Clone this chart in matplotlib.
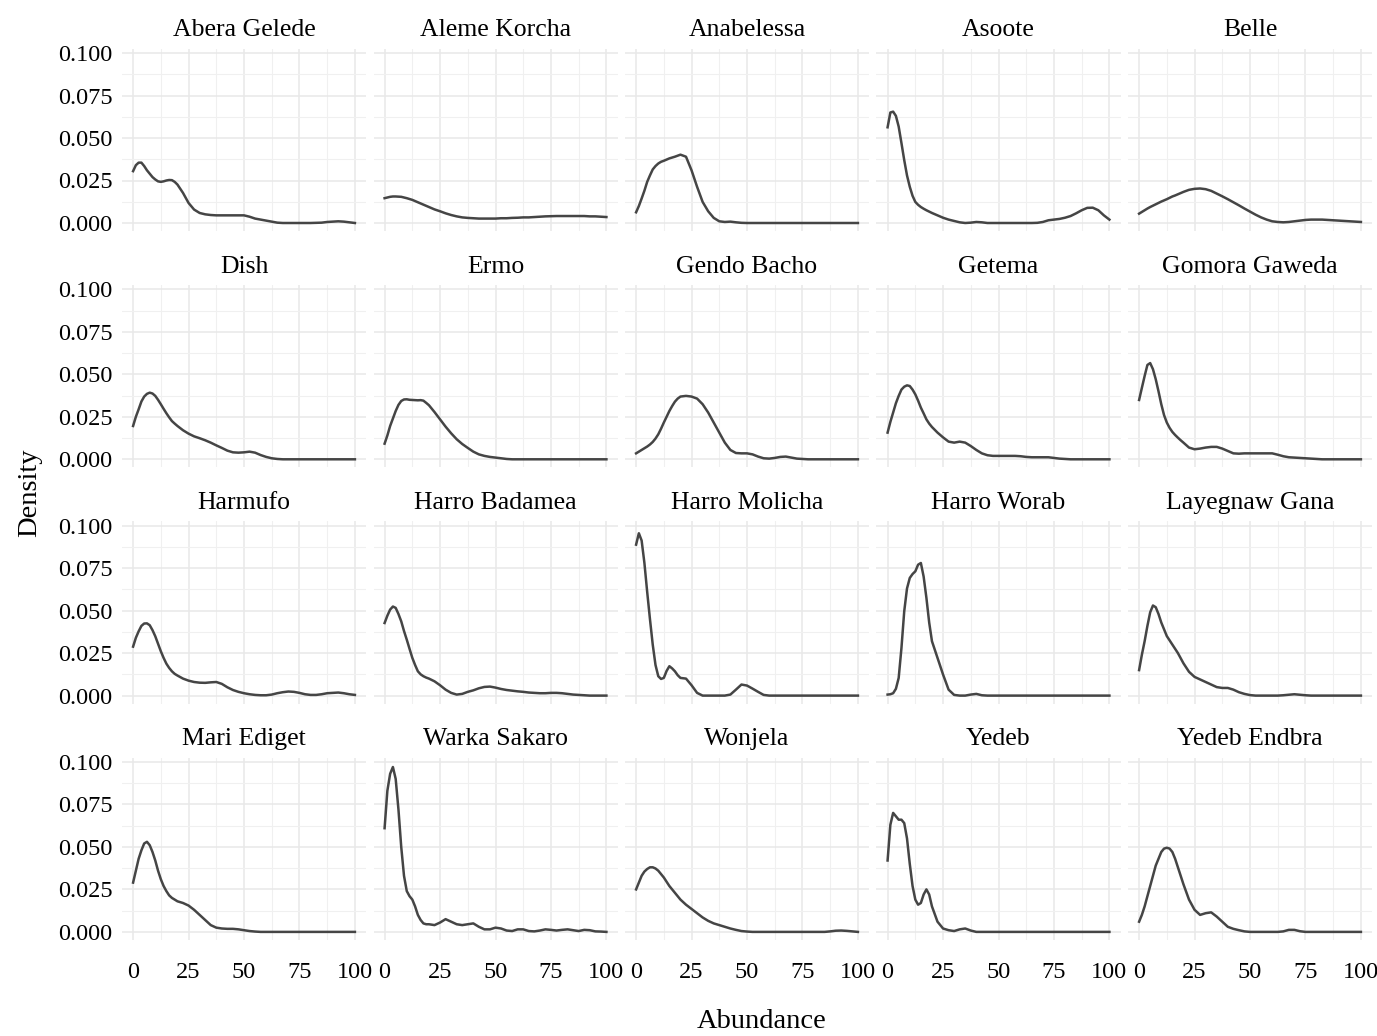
import matplotlib
matplotlib.use("Agg")
import matplotlib.pyplot as plt
from matplotlib.ticker import FixedLocator

plt.rcParams['font.family'] = ['Liberation Serif', 'DejaVu Serif']

# abundance values at which the density curves were read
abundance = [0, 1.25, 2.5, 3.75, 5, 6.25, 7.5, 8.75, 10, 11.25, 12.5, 13.75, 15, 16.25, 17.5, 18.75, 20,
             22.5, 25, 27.5, 30, 32.5, 35, 37.5, 40, 42.5, 45, 47.5, 50,
             52.5, 55, 57.5, 60, 62.5, 65, 67.5, 70, 72.5, 75, 77.5, 80,
             82.5, 85, 87.5, 90, 92.5, 95, 97.5, 100]

sites = ["Abera Gelede", "Aleme Korcha", "Anabelessa", "Asoote", "Belle",
         "Dish", "Ermo", "Gendo Bacho", "Getema", "Gomora Gaweda",
         "Harmufo", "Harro Badamea", "Harro Molicha", "Harro Worab", "Layegnaw Gana",
         "Mari Ediget", "Warka Sakaro", "Wonjela", "Yedeb", "Yedeb Endbra"]

abera_gelede = [0.0305, 0.034, 0.0355, 0.0355, 0.0335, 0.031, 0.029, 0.027, 0.0256, 0.0245, 0.0242, 0.0245, 0.025, 0.0253, 0.0252, 0.0242, 0.0226,
                0.0177, 0.0118, 0.0079, 0.0059, 0.0051, 0.0047, 0.0045, 0.0045, 0.0045, 0.0045, 0.0045, 0.0045,
                0.0037, 0.0026, 0.002, 0.0014, 0.0008, 0.0002, 0, 0, 0, 0, 0, 0,
                0.0001, 0.0002, 0.0006, 0.0008, 0.001, 0.0008, 0.0004, 0]
aleme_korcha = [0.0146, 0.015, 0.0154, 0.0156, 0.0156, 0.0155, 0.0154, 0.015, 0.0146, 0.0141, 0.0136, 0.0129, 0.0122, 0.0115, 0.0108, 0.0101, 0.0094,
                0.008, 0.0069, 0.0057, 0.0047, 0.0039, 0.0033, 0.003, 0.0028, 0.0026, 0.0026, 0.0026, 0.0026,
                0.0028, 0.0028, 0.003, 0.0031, 0.0033, 0.0033, 0.0035, 0.0037, 0.0039, 0.004, 0.0041, 0.0041,
                0.0041, 0.0041, 0.0041, 0.0041, 0.0039, 0.0039, 0.0037, 0.0035]
anabelessa = [0.0063, 0.010, 0.0144, 0.019, 0.0242, 0.028, 0.0315, 0.0335, 0.035, 0.036, 0.0366, 0.0373, 0.038, 0.0385, 0.039, 0.0396, 0.0402,
              0.039, 0.031, 0.0213, 0.0124, 0.0069, 0.003, 0.001, 0.0006, 0.0008, 0.0004, 0.0001, 0,
              0, 0, 0, 0, 0, 0, 0, 0, 0, 0, 0, 0,
              0, 0, 0, 0, 0, 0, 0, 0]
asoote = [0.0563, 0.065, 0.0655, 0.063, 0.0567, 0.047, 0.037, 0.028, 0.0213, 0.016, 0.0124, 0.0107, 0.0094, 0.0084, 0.0075, 0.0067, 0.0059,
          0.0045, 0.0031, 0.002, 0.0012, 0.0004, 0, 0.0002, 0.0006, 0.0004, 0, 0, 0,
          0, 0, 0, 0, 0, 0, 0.0001, 0.0006, 0.0016, 0.002, 0.0024, 0.0031,
          0.0041, 0.0057, 0.0075, 0.0089, 0.009, 0.0075, 0.0045, 0.002]
belle = [0.0055, 0.0065, 0.0075, 0.0085, 0.0094, 0.0102, 0.011, 0.0118, 0.0126, 0.0133, 0.014, 0.0148, 0.0156, 0.0162, 0.0169, 0.0176, 0.0183,
         0.0195, 0.0201, 0.0203, 0.0199, 0.0189, 0.0173, 0.0157, 0.014, 0.0122, 0.0104, 0.0085, 0.0067,
         0.0049, 0.0033, 0.002, 0.001, 0.0006, 0.0004, 0.0006, 0.001, 0.0014, 0.0018, 0.002, 0.002,
         0.002, 0.0018, 0.0016, 0.0014, 0.0012, 0.001, 0.0008, 0.0006]
dish = [0.0196, 0.025, 0.0294, 0.034, 0.0369, 0.0385, 0.0392, 0.0387, 0.0373, 0.035, 0.0324, 0.0297, 0.0271, 0.0247, 0.0225, 0.021, 0.0196,
        0.0171, 0.0151, 0.0135, 0.0124, 0.0112, 0.0098, 0.0082, 0.0067, 0.0051, 0.0041, 0.0039, 0.0041,
        0.0045, 0.0039, 0.0025, 0.0014, 0.0006, 0.0002, 0, 0, 0, 0, 0, 0,
        0, 0, 0, 0, 0, 0, 0, 0]
ermo = [0.0092, 0.014, 0.0196, 0.024, 0.0284, 0.032, 0.0343, 0.0352, 0.0353, 0.035, 0.0349, 0.0348, 0.0347, 0.0348, 0.0345, 0.0332, 0.0318,
        0.0278, 0.0235, 0.0192, 0.0153, 0.0118, 0.009, 0.0067, 0.0045, 0.0029, 0.002, 0.0014, 0.001,
        0.0006, 0.0002, 0, 0, 0, 0, 0, 0, 0, 0, 0, 0,
        0, 0, 0, 0, 0, 0, 0, 0]
gendo_bacho = [0.0035, 0.0045, 0.0055, 0.0065, 0.0075, 0.0087, 0.0102, 0.0122, 0.0147, 0.018, 0.0216, 0.025, 0.0284, 0.0313, 0.0339, 0.0357, 0.0369,
               0.0373, 0.0369, 0.0357, 0.0324, 0.0275, 0.0216, 0.0157, 0.0098, 0.0055, 0.0037, 0.0035, 0.0035,
               0.0029, 0.0016, 0.0006, 0.0004, 0.0008, 0.0014, 0.0016, 0.001, 0.0004, 0.0002, 0, 0,
               0, 0, 0, 0, 0, 0, 0, 0]
getema = [0.0157, 0.022, 0.0275, 0.033, 0.0373, 0.041, 0.0427, 0.0435, 0.0431, 0.041, 0.0382, 0.0345, 0.0304, 0.027, 0.0235, 0.021, 0.019,
          0.0157, 0.0129, 0.0104, 0.0098, 0.0104, 0.0098, 0.0078, 0.0055, 0.0035, 0.0024, 0.002, 0.002,
          0.002, 0.002, 0.002, 0.0018, 0.0014, 0.0012, 0.0012, 0.0012, 0.0012, 0.0008, 0.0004, 0.0002,
          0, 0, 0, 0, 0, 0, 0, 0]
gomora_gaweda = [0.0349, 0.042, 0.049, 0.0555, 0.0566, 0.053, 0.0471, 0.040, 0.0324, 0.026, 0.0216, 0.0185, 0.0161, 0.0143, 0.0127, 0.0112, 0.0098,
                 0.0069, 0.0059, 0.0063, 0.0069, 0.0073, 0.0073, 0.0063, 0.0049, 0.0035, 0.0033, 0.0035, 0.0035,
                 0.0035, 0.0035, 0.0035, 0.0035, 0.0027, 0.0018, 0.0012, 0.001, 0.0008, 0.0006, 0.0004, 0.0002,
                 0, 0, 0, 0, 0, 0, 0, 0]
harmufo = [0.0288, 0.034, 0.0378, 0.041, 0.0424, 0.0425, 0.0414, 0.0385, 0.0349, 0.0305, 0.0261, 0.0222, 0.0188, 0.0163, 0.0143, 0.0128, 0.0118,
           0.010, 0.0088, 0.008, 0.0076, 0.0075, 0.0078, 0.008, 0.0069, 0.0049, 0.0033, 0.0022, 0.0014,
           0.0008, 0.0004, 0.0002, 0.0002, 0.0006, 0.0014, 0.002, 0.0024, 0.0022, 0.0016, 0.0008, 0.0004,
           0.0004, 0.0008, 0.0014, 0.0016, 0.0018, 0.0014, 0.0008, 0.0004]
harro_badamea = [0.0427, 0.047, 0.0506, 0.0524, 0.0516, 0.048, 0.0437, 0.038, 0.0329, 0.0275, 0.0222, 0.018, 0.0143, 0.0125, 0.0114, 0.0106, 0.010,
                 0.0084, 0.0061, 0.0035, 0.0016, 0.0006, 0.001, 0.0022, 0.0031, 0.0043, 0.0051, 0.0053, 0.0047,
                 0.0039, 0.0033, 0.0029, 0.0025, 0.0022, 0.0018, 0.0016, 0.0014, 0.0014, 0.0016, 0.0016, 0.0014,
                 0.001, 0.0006, 0.0004, 0.0002, 0, 0, 0, 0]
harro_molicha = [0.0888, 0.0955, 0.0912, 0.078, 0.061, 0.045, 0.030, 0.018, 0.0114, 0.0098, 0.0104, 0.0145, 0.0173, 0.016, 0.0143, 0.012, 0.0104,
                 0.010, 0.0061, 0.0016, 0, 0, 0, 0, 0, 0.0006, 0.0035, 0.0065, 0.0059,
                 0.0041, 0.0022, 0.0004, 0, 0, 0, 0, 0, 0, 0, 0, 0,
                 0, 0, 0, 0, 0, 0, 0, 0]
harro_worab = [0.0006, 0.0008, 0.0014, 0.004, 0.0104, 0.028, 0.0496, 0.063, 0.0692, 0.0715, 0.0731, 0.077, 0.078, 0.070, 0.0575, 0.043, 0.032,
               0.0222, 0.0124, 0.0035, 0.0004, 0, 0, 0.0006, 0.001, 0.0002, 0, 0, 0,
               0, 0, 0, 0, 0, 0, 0, 0, 0, 0, 0, 0,
               0, 0, 0, 0, 0, 0, 0, 0]
layegnaw_gana = [0.015, 0.024, 0.032, 0.041, 0.049, 0.053, 0.052, 0.048, 0.043, 0.039, 0.035, 0.0325, 0.030, 0.0275, 0.025, 0.022, 0.019,
                 0.014, 0.011, 0.0095, 0.008, 0.0065, 0.005, 0.0045, 0.0045, 0.0035, 0.002, 0.001, 0.0003,
                 0, 0, 0, 0, 0, 0.0002, 0.0005, 0.0008, 0.0005, 0.0002, 0, 0,
                 0, 0, 0, 0, 0, 0, 0, 0]
mari_ediget = [0.029, 0.036, 0.043, 0.048, 0.052, 0.053, 0.051, 0.047, 0.042, 0.036, 0.031, 0.027, 0.024, 0.0215, 0.020, 0.019, 0.018,
               0.017, 0.0155, 0.013, 0.010, 0.007, 0.004, 0.0025, 0.002, 0.0018, 0.0018, 0.0015, 0.001,
               0.0005, 0.0002, 0, 0, 0, 0, 0, 0, 0, 0, 0, 0,
               0, 0, 0, 0, 0, 0, 0, 0]
warka_sakaro = [0.061, 0.083, 0.093, 0.097, 0.090, 0.072, 0.050, 0.033, 0.024, 0.021, 0.019, 0.015, 0.010, 0.007, 0.005, 0.0045, 0.0045,
                0.004, 0.0055, 0.0075, 0.006, 0.0045, 0.004, 0.0045, 0.005, 0.003, 0.0015, 0.0015, 0.0025,
                0.002, 0.0008, 0.0005, 0.0015, 0.0015, 0.0005, 0.0003, 0.0008, 0.0015, 0.0012, 0.0008, 0.0012,
                0.0015, 0.001, 0.0005, 0.0012, 0.001, 0.0003, 0.0002, 0]
wonjela = [0.025, 0.029, 0.033, 0.0355, 0.037, 0.038, 0.038, 0.0373, 0.036, 0.034, 0.032, 0.0295, 0.027, 0.025, 0.023, 0.021, 0.019,
           0.016, 0.0135, 0.011, 0.0085, 0.0065, 0.005, 0.004, 0.003, 0.002, 0.0012, 0.0005, 0.0002,
           0, 0, 0, 0, 0, 0, 0, 0, 0, 0, 0, 0,
           0, 0, 0.0003, 0.0007, 0.0008, 0.0006, 0.0003, 0]
yedeb = [0.042, 0.063, 0.070, 0.068, 0.066, 0.066, 0.064, 0.055, 0.040, 0.027, 0.019, 0.016, 0.017, 0.022, 0.025, 0.022, 0.015,
         0.006, 0.002, 0.001, 0.0005, 0.0015, 0.002, 0.0008, 0, 0, 0, 0, 0,
         0, 0, 0, 0, 0, 0, 0, 0, 0, 0, 0, 0,
         0, 0, 0, 0, 0, 0, 0, 0]
yedeb_endbra = [0.006, 0.010, 0.015, 0.021, 0.027, 0.033, 0.039, 0.043, 0.047, 0.049, 0.0495, 0.049, 0.047, 0.043, 0.038, 0.033, 0.028,
                0.019, 0.013, 0.010, 0.011, 0.0115, 0.009, 0.006, 0.003, 0.0018, 0.001, 0.0003, 0,
                0, 0, 0, 0, 0, 0.0003, 0.0012, 0.0012, 0.0004, 0, 0, 0,
                0, 0, 0, 0, 0, 0, 0, 0]

densities = [abera_gelede, aleme_korcha, anabelessa, asoote, belle,
             dish, ermo, gendo_bacho, getema, gomora_gaweda,
             harmufo, harro_badamea, harro_molicha, harro_worab, layegnaw_gana,
             mari_ediget, warka_sakaro, wonjela, yedeb, yedeb_endbra]

x_ticks = [0, 25, 50, 75, 100]
y_ticks = [0.000, 0.025, 0.050, 0.075, 0.100]
y_tick_labels = ["0.000", "0.025", "0.050", "0.075", "0.100"]

W, H = 1377, 1036
fig = plt.figure(figsize=(W / 100, H / 100), dpi=100)
fig.patch.set_facecolor("white")

ylim = (-0.0048, 0.1025)
xlim = (-5, 105)
px_per_y = 1700.0
panel_w = 244
panel_h = (ylim[1] - ylim[0]) * px_per_y

for i, (site, dens) in enumerate(zip(sites, densities)):
    r, c = divmod(i, 5)
    left = 122 + c * 251.5
    y_zero = 223 + r * 236.3
    bottom_px = y_zero - ylim[0] * px_per_y
    ax = fig.add_axes([left / W, 1 - bottom_px / H, panel_w / W, panel_h / H])
    ax.set_xlim(*xlim)
    ax.set_ylim(*ylim)
    for s in ax.spines.values():
        s.set_visible(False)
    ax.xaxis.set_major_locator(FixedLocator(x_ticks))
    ax.xaxis.set_minor_locator(FixedLocator([12.5, 37.5, 62.5, 87.5]))
    ax.yaxis.set_major_locator(FixedLocator(y_ticks))
    ax.yaxis.set_minor_locator(FixedLocator([0.0125, 0.0375, 0.0625, 0.0875]))
    ax.grid(True, which="major", color="#e8e8e8", lw=1.1)
    ax.grid(True, which="minor", color="#f0f0f0", lw=0.8)
    ax.set_axisbelow(True)
    ax.tick_params(which="both", length=0, labelsize=17.5, colors="black")
    ax.tick_params(axis="y", pad=7)
    ax.tick_params(axis="x", pad=16)
    if c == 0:
        ax.set_yticklabels(y_tick_labels)
    else:
        ax.set_yticklabels([])
    if r == 3:
        ax.set_xticklabels([str(t) for t in x_ticks])
    else:
        ax.set_xticklabels([])
    ax.plot(abundance, dens, color="#454545", lw=1.8, solid_joinstyle="round")
    ax.set_title(site, fontsize=18.5, pad=9)

fig.text(762 / W, 1 - 1022 / H, "Abundance", ha="center", va="center", fontsize=20.5)
fig.text(30 / W, 1 - 493 / H, "Density", ha="center", va="center", rotation=90, fontsize=20.5)

fig.savefig("out.png", dpi=100)
